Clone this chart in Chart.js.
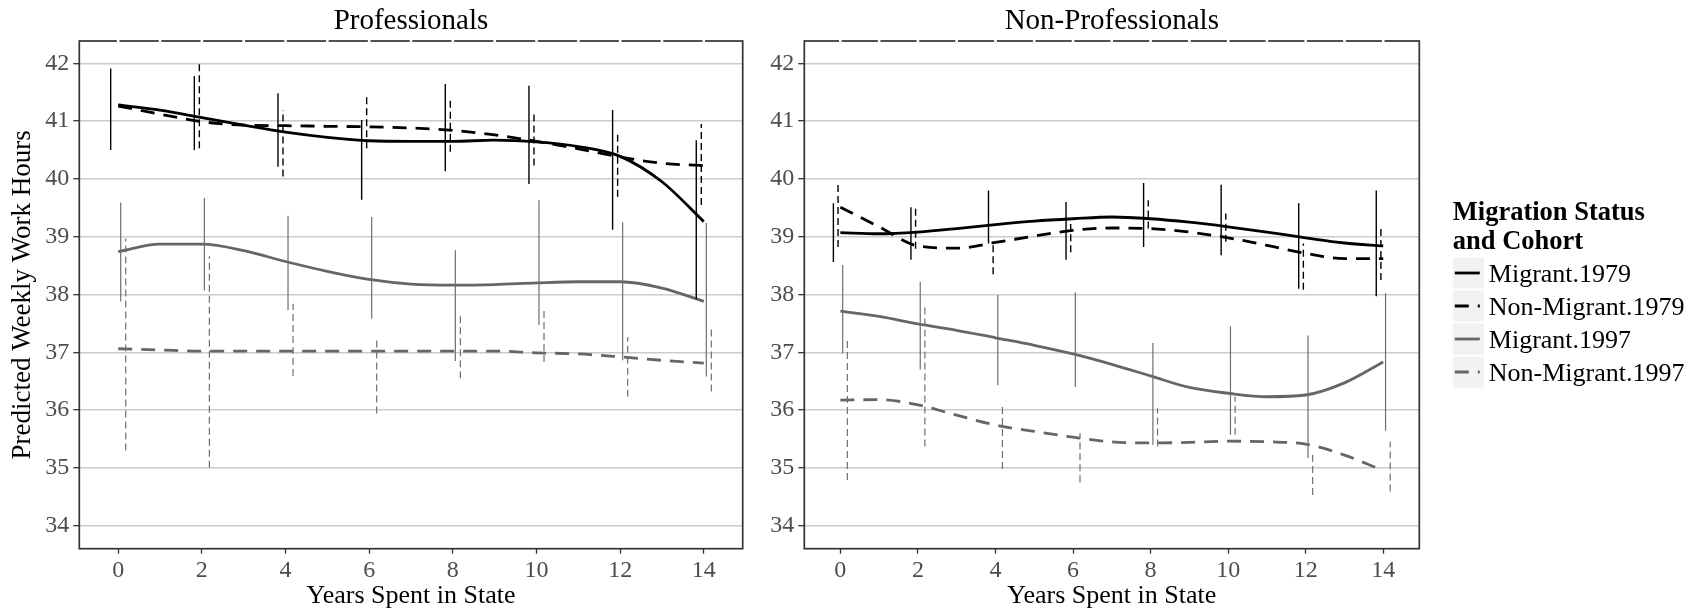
<!DOCTYPE html>
<html>
<head>
<meta charset="utf-8">
<title>Predicted Weekly Work Hours</title>
<script src="https://cdn.jsdelivr.net/npm/chart.js@4.4.1/dist/chart.umd.min.js"></script>
<style>
  html, body { margin: 0; padding: 0; background: #fff; }
  #wrap { position: relative; width: 1698px; height: 616px; overflow: hidden; }
  canvas { position: absolute; top: 0; }
</style>
</head>
<body>
<div id="wrap">
  <canvas id="prof" width="760" height="616" style="left:0"></canvas>
  <canvas id="nonprof" width="938" height="616" style="left:760px"></canvas>
</div>
<script>
// ---- data -------------------------------------------------------------
const years = [0, 1, 2, 3, 4, 5, 6, 7, 8, 9, 10, 11, 12, 13, 14];
const barYears = [0, 2, 4, 6, 8, 10, 12, 14];
const xTicks = [0, 2, 4, 6, 8, 10, 12, 14];
const yTicks = [34, 35, 36, 37, 38, 39, 40, 41, 42];
const seriesNames = ['Migrant.1979', 'Non-Migrant.1979', 'Migrant.1997', 'Non-Migrant.1997'];

// Professionals: smoothed predictions by year
const profMigrant1979    = [41.28, 41.19, 41.06, 40.93, 40.81, 40.72, 40.66, 40.65, 40.65, 40.67, 40.64, 40.56, 40.39, 39.95, 39.26];
const profNonMigrant1979 = [41.26, 41.12, 40.99, 40.93, 40.92, 40.91, 40.90, 40.88, 40.84, 40.76, 40.65, 40.52, 40.38, 40.27, 40.23];
const profMigrant1997    = [38.74, 38.87, 38.87, 38.76, 38.57, 38.40, 38.26, 38.18, 38.16, 38.17, 38.20, 38.22, 38.22, 38.11, 37.88];
const profNonMigrant1997 = [37.06, 37.04, 37.02, 37.02, 37.02, 37.02, 37.02, 37.02, 37.02, 37.02, 36.99, 36.97, 36.92, 36.86, 36.81];

// Professionals: interval bounds at even years
const profMigrant1979Lo    = [40.50, 40.50, 40.21, 39.64, 40.13, 39.91, 39.12, 37.92];
const profMigrant1979Hi    = [41.91, 41.78, 41.48, 41.02, 41.64, 41.61, 41.19, 40.67];
const profNonMigrant1979Lo = [null, 40.53, 40.04, 40.53, 40.47, 40.23, 39.69, 39.55];
const profNonMigrant1979Hi = [null, 42.00, 41.19, 41.42, 41.38, 41.12, 40.82, 40.95];
const profMigrant1997Lo    = [37.88, 38.07, 37.73, 37.58, 36.85, 37.47, 36.86, 36.58];
const profMigrant1997Hi    = [39.59, 39.67, 39.36, 39.34, 38.77, 39.63, 39.25, 39.24];
const profNonMigrant1997Lo = [35.30, 35.00, 36.59, 35.94, 36.55, 36.83, 36.23, 36.32];
const profNonMigrant1997Hi = [38.97, 38.66, 37.84, 37.21, 37.64, 37.73, 37.26, 37.41];

// Non-Professionals: smoothed predictions by year
const npMigrant1979    = [39.07, 39.05, 39.08, 39.14, 39.21, 39.27, 39.31, 39.34, 39.31, 39.25, 39.17, 39.08, 38.98, 38.89, 38.84];
const npNonMigrant1979 = [39.51, 39.17, 38.84, 38.80, 38.90, 39.01, 39.11, 39.15, 39.14, 39.08, 38.98, 38.85, 38.71, 38.62, 38.62];
const npMigrant1997    = [37.71, 37.62, 37.49, 37.38, 37.25, 37.12, 36.97, 36.79, 36.59, 36.39, 36.29, 36.23, 36.26, 36.47, 36.83];
const npNonMigrant1997 = [36.17, 36.18, 36.09, 35.91, 35.74, 35.63, 35.53, 35.45, 35.43, 35.44, 35.46, 35.45, 35.41, 35.22, 34.95];

// Non-Professionals: interval bounds at even years
const npMigrant1979Lo    = [38.56, 38.60, 38.88, 38.60, 38.82, 38.68, 38.10, 37.97];
const npMigrant1979Hi    = [39.58, 39.51, 39.80, 39.60, 39.93, 39.90, 39.58, 39.80];
const npNonMigrant1979Lo = [38.82, 38.79, 38.35, 38.73, 39.14, 38.91, 38.08, 38.25];
const npNonMigrant1979Hi = [39.93, 39.51, 38.87, 39.22, 39.63, 39.40, 38.88, 39.17];
const npMigrant1997Lo    = [36.98, 36.70, 36.43, 36.40, 35.40, 35.57, 35.17, 35.64];
const npMigrant1997Hi    = [38.51, 38.22, 37.99, 38.04, 37.16, 37.45, 37.29, 38.02];
const npNonMigrant1997Lo = [34.79, 35.37, 34.98, 34.75, 35.37, 35.57, 34.53, 34.59];
const npNonMigrant1997Hi = [37.26, 37.84, 36.06, 35.60, 36.03, 36.23, 35.22, 35.45];

// ---- styling ----------------------------------------------------------
const SERIF = '"Liberation Serif", "Times New Roman", Times, serif';
const styles = [
  { color: '#000000', barColor: '#000000', dash: [],     barDash: [],     width: 2.8, barWidth: 1.4, dodge: -0.18 },
  { color: '#000000', barColor: '#000000', dash: [14, 9], barDash: [7, 4], width: 2.8, barWidth: 1.4, dodge: -0.06 },
  { color: '#666666', barColor: '#6e6e6e', dash: [],     barDash: [],     width: 2.8, barWidth: 1.2, dodge: 0.06 },
  { color: '#666666', barColor: '#6e6e6e', dash: [14, 9], barDash: [7, 4], width: 2.8, barWidth: 1.2, dodge: 0.18 }
];

function lineDataset(values, st, name) {
  return {
    label: name,
    data: years.map((x, i) => ({ x: x, y: values[i] })),
    borderColor: st.color,
    borderWidth: st.width,
    borderDash: st.dash,
    pointRadius: 0,
    fill: false,
    cubicInterpolationMode: 'monotone'
  };
}

function barDataset(lo, hi, st, name) {
  const pts = [];
  barYears.forEach((x, i) => {
    if (lo[i] === null || hi[i] === null) return;
    const xp = x + st.dodge;
    pts.push({ x: xp, y: lo[i] }, { x: xp, y: hi[i] }, { x: xp, y: null });
  });
  return {
    label: name + ' interval',
    data: pts,
    borderColor: st.barColor,
    borderWidth: st.barWidth,
    borderDash: st.barDash,
    pointRadius: 0,
    fill: false,
    tension: 0,
    spanGaps: false
  };
}

// frame, top-edge breaks and panel title
const panelDecor = {
  id: 'panelDecor',
  afterDraw(chart, args, opts) {
    const { ctx, chartArea: a, scales } = chart;
    ctx.save();
    ctx.strokeStyle = '#333333';
    ctx.lineWidth = 1.7;
    ctx.setLineDash([]);
    ctx.strokeRect(a.left, a.top, a.right - a.left, a.bottom - a.top);
    ctx.fillStyle = '#ffffff';
    years.forEach(v => {
      const px = scales.x.getPixelForValue(v);
      ctx.fillRect(px - 1.3, a.top - 1.5, 2.6, 3);
    });
    ctx.fillStyle = '#000000';
    ctx.font = '29px ' + SERIF;
    ctx.textAlign = 'center';
    ctx.textBaseline = 'alphabetic';
    ctx.fillText(opts.title, (a.left + a.right) / 2, 29);
    ctx.restore();
  }
};

// legend beside the right-hand panel
const cohortLegend = {
  id: 'cohortLegend',
  afterDraw(chart, args, opts) {
    if (!opts.show) return;
    const { ctx, chartArea: a } = chart;
    const x0 = a.right + 33.5;
    ctx.save();
    ctx.fillStyle = '#000000';
    ctx.textAlign = 'left';
    ctx.textBaseline = 'alphabetic';
    ctx.font = 'bold 26.5px ' + SERIF;
    ctx.fillText('Migration Status', x0, 220);
    ctx.fillText('and Cohort', x0, 249);
    seriesNames.forEach((name, i) => {
      const top = 257.5 + i * 33;
      const cy = top + 15.5;
      ctx.fillStyle = '#f2f2f2';
      ctx.fillRect(x0, top, 31, 31);
      ctx.strokeStyle = styles[i].color;
      ctx.lineWidth = 2.8;
      ctx.setLineDash(styles[i].dash);
      ctx.beginPath();
      ctx.moveTo(x0 + 2, cy);
      ctx.lineTo(x0 + 27, cy);
      ctx.stroke();
      ctx.setLineDash([]);
      ctx.fillStyle = '#000000';
      ctx.font = '26px ' + SERIF;
      ctx.fillText(name, x0 + 36, cy + 8.5);
    });
    ctx.restore();
  }
};

function makePanel(canvasId, title, lines, bars, opts) {
  const datasets = [];
  bars.forEach((b, i) => datasets.push(barDataset(b[0], b[1], styles[i], seriesNames[i])));
  lines.forEach((l, i) => datasets.push(lineDataset(l, styles[i], seriesNames[i])));
  return new Chart(document.getElementById(canvasId), {
    type: 'line',
    data: { datasets: datasets },
    plugins: [panelDecor, cohortLegend],
    options: {
      responsive: false,
      animation: false,
      devicePixelRatio: 1,
      layout: { padding: { left: 0, top: 41, right: opts.padRight, bottom: 0 } },
      plugins: {
        legend: { display: false },
        tooltip: { enabled: false },
        panelDecor: { title: title },
        cohortLegend: { show: opts.legend }
      },
      scales: {
        x: {
          type: 'linear',
          min: -0.93,
          max: 14.93,
          afterBuildTicks: s => { s.ticks = xTicks.map(v => ({ value: v })); },
          afterFit: s => { s.height = 67.3; },
          ticks: { autoSkip: false, maxRotation: 0, minRotation: 0, padding: 3,
                   color: '#4d4d4d', font: { family: SERIF, size: 24 } },
          grid: { drawOnChartArea: false, drawTicks: true, tickLength: 5,
                  tickColor: '#333333', tickWidth: 1.3 },
          border: { display: false },
          title: { display: true, text: 'Years Spent in State', color: '#000000',
                   font: { family: SERIF, size: 26 }, padding: { top: 0, bottom: 4 } }
        },
        y: {
          type: 'linear',
          min: 33.6,
          max: 42.386,
          afterBuildTicks: s => { s.ticks = yTicks.map(v => ({ value: v })); },
          afterFit: s => { s.width = opts.yWidth; },
          ticks: { padding: 4, color: '#4d4d4d', font: { family: SERIF, size: 24 } },
          grid: { color: '#cccccc', lineWidth: 1.4, drawTicks: true, tickLength: 6,
                  tickColor: '#333333', tickWidth: 1.3 },
          border: { display: false },
          title: { display: opts.yTitle, text: 'Predicted Weekly Work Hours', color: '#000000',
                   font: { family: SERIF, size: 27 }, padding: { top: 7, bottom: 0 } }
        }
      }
    }
  });
}

makePanel('prof', 'Professionals',
  [profMigrant1979, profNonMigrant1979, profMigrant1997, profNonMigrant1997],
  [[profMigrant1979Lo, profMigrant1979Hi], [profNonMigrant1979Lo, profNonMigrant1979Hi],
   [profMigrant1997Lo, profMigrant1997Hi], [profNonMigrant1997Lo, profNonMigrant1997Hi]],
  { padRight: 17.3, yWidth: 79.3, yTitle: true, legend: false });

makePanel('nonprof', 'Non-Professionals',
  [npMigrant1979, npNonMigrant1979, npMigrant1997, npNonMigrant1997],
  [[npMigrant1979Lo, npMigrant1979Hi], [npNonMigrant1979Lo, npNonMigrant1979Hi],
   [npMigrant1997Lo, npMigrant1997Hi], [npNonMigrant1997Lo, npNonMigrant1997Hi]],
  { padRight: 278.7, yWidth: 44.3, yTitle: false, legend: true });
</script>
</body>
</html>
